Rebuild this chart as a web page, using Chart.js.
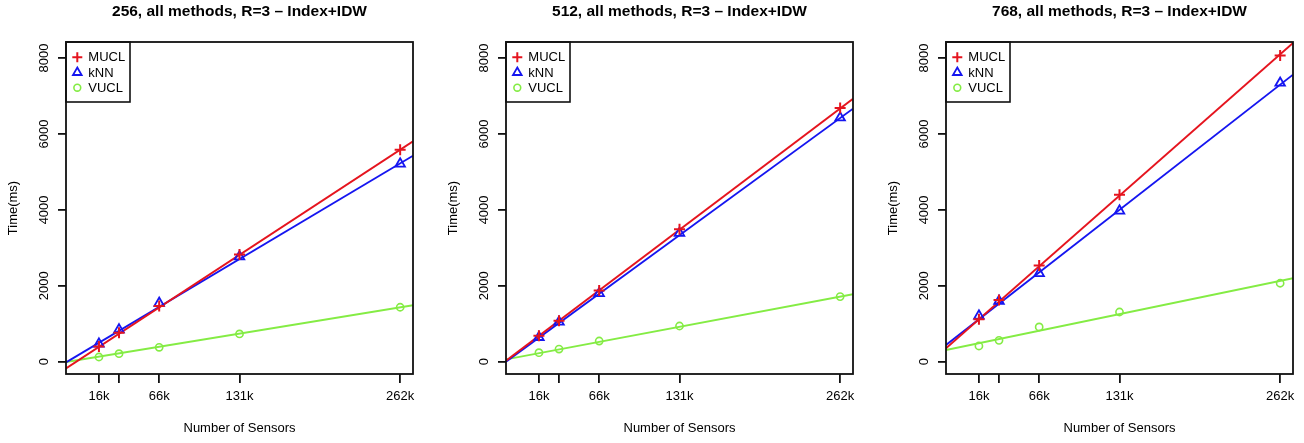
<!DOCTYPE html>
<html>
<head>
<meta charset="utf-8">
<script src="https://cdn.jsdelivr.net/npm/chart.js@4.4.1/dist/chart.umd.min.js"></script>
<style>
  body { margin: 0; background: #fff; width: 1304px; height: 443px; overflow: hidden; position: relative; }
  canvas { position: absolute; top: 0; }
</style>
</head>
<body>
<canvas id="c256" width="440" height="443" style="left:0px"></canvas>
<canvas id="c512" width="440" height="443" style="left:440px"></canvas>
<canvas id="c768" width="440" height="443" style="left:880px"></canvas>
<script>
// ---- data ----
var sensors = [16384, 32768, 65536, 131072, 262144];
var xTicks = [16384, 32768, 65536, 131072, 262144];
var xTickLabels = ['16k', '', '66k', '131k', '262k'];
var yTicks = [0, 2000, 4000, 6000, 8000];
var seriesNames = ['MUCL', 'kNN', 'VUCL'];

// 256
var mucl256 = [400, 765, 1470, 2825, 5585];
var knn256 = [470, 845, 1545, 2770, 5215];
var vucl256 = [124, 211, 380, 731, 1435];
// 512
var mucl512 = [686, 1082, 1873, 3493, 6686];
var knn512 = [644, 1047, 1803, 3387, 6429];
var vucl512 = [237, 334, 545, 941, 1715];
// 768
var mucl768 = [1118, 1627, 2533, 4398, 8066];
var knn768 = [1210, 1600, 2330, 3976, 7345];
var vucl768 = [414, 563, 915, 1310, 2067];

// fitted lines: value at the left and right edge of the plot
var fitX = [-10486, 272630];
var muclFit256 = [-175, 5805];
var knnFit256 = [-20, 5427];
var vuclFit256 = [-10, 1488];
var muclFit512 = [26, 6930];
var knnFit512 = [0, 6667];
var vuclFit512 = [61, 1777];
var muclFit768 = [352, 8400];
var knnFit768 = [440, 7564];
var vuclFit768 = [308, 2200];

var FONT = '"Liberation Sans", Arial, Helvetica, sans-serif';
var RED = '#e5141e', BLUE = '#1515f0', GREEN = '#84ec44';

function pts(vals) {
  var out = [];
  for (var i = 0; i < vals.length; i++) out.push({ x: sensors[i], y: vals[i] });
  return out;
}
function fitPts(vals) {
  return [{ x: fitX[0], y: vals[0] }, { x: fitX[1], y: vals[1] }];
}

// box around plot, rotated y labels, legend in the top-left corner
var framePlugin = {
  id: 'frame',
  afterDraw: function (chart) {
    var ctx = chart.ctx, a = chart.chartArea;
    ctx.save();
    ctx.strokeStyle = '#111';
    ctx.lineWidth = 1.8;
    ctx.strokeRect(a.left, a.top, a.right - a.left, a.bottom - a.top);

    // y tick labels, parallel to axis
    var ys = chart.scales.y;
    ctx.fillStyle = '#000';
    ctx.font = '13px ' + FONT;
    ctx.textAlign = 'center';
    ctx.textBaseline = 'middle';
    for (var i = 0; i < yTicks.length; i++) {
      ctx.save();
      ctx.translate(a.left - 22, ys.getPixelForValue(yTicks[i]));
      ctx.rotate(-Math.PI / 2);
      ctx.fillText(String(yTicks[i]), 0, 0);
      ctx.restore();
    }

    // legend
    ctx.lineWidth = 1.6;
    ctx.strokeRect(a.left, a.top, 64, 60);
    ctx.textAlign = 'left';
    for (var k = 0; k < seriesNames.length; k++) {
      var ds = chart.data.datasets[k];
      var cy = a.top + 15.3 + k * 15.2;
      ctx.fillStyle = ds.backgroundColor;
      ctx.strokeStyle = ds.borderColor;
      ctx.lineWidth = ds.pointBorderWidth;
      Chart.helpers.drawPoint(ctx, {
        pointStyle: ds.pointStyle,
        radius: k === 2 ? 3.4 : 5,
        rotation: 0,
        borderWidth: ds.pointBorderWidth
      }, a.left + 11.3, cy);
      ctx.fillStyle = '#000';
      ctx.fillText(ds.label, a.left + 22.3, cy + 0.5);
    }
    ctx.restore();
  }
};

function makeChart(id, title, mucl, knn, vucl, muclFit, knnFit, vuclFit) {
  var ctx = document.getElementById(id);
  return new Chart(ctx, {
    type: 'scatter',
    data: {
      datasets: [
        { label: seriesNames[0], data: pts(mucl), pointStyle: 'cross', pointRadius: 5.5,
          borderColor: RED, backgroundColor: RED, pointBorderWidth: 2 },
        { label: seriesNames[1], data: pts(knn), pointStyle: 'triangle', pointRadius: 5.5,
          borderColor: BLUE, backgroundColor: 'rgba(0,0,0,0)', pointBorderWidth: 1.8 },
        { label: seriesNames[2], data: pts(vucl), pointStyle: 'circle', pointRadius: 3.6,
          borderColor: GREEN, backgroundColor: 'rgba(0,0,0,0)', pointBorderWidth: 1.6 },
        { label: 'fit MUCL', data: fitPts(muclFit), showLine: true, pointRadius: 0, borderColor: RED, borderWidth: 1.9 },
        { label: 'fit kNN', data: fitPts(knnFit), showLine: true, pointRadius: 0, borderColor: BLUE, borderWidth: 1.9 },
        { label: 'fit VUCL', data: fitPts(vuclFit), showLine: true, pointRadius: 0, borderColor: GREEN, borderWidth: 1.9 }
      ]
    },
    options: {
      responsive: false,
      animation: false,
      events: [],
      layout: { padding: { left: 0, right: 27, top: 0, bottom: 0 } },
      plugins: {
        tooltip: { enabled: false },
        legend: { display: false },
        title: {
          display: true, text: title, fullSize: false, color: '#000',
          font: { family: FONT, size: 15.5, weight: 'bold', lineHeight: 1.2 },
          padding: { top: 2.4, bottom: 21 }
        }
      },
      scales: {
        x: {
          type: 'linear', min: fitX[0], max: fitX[1],
          afterBuildTicks: function (s) { s.ticks = xTicks.map(function (v) { return { value: v }; }); },
          afterFit: function (s) { s.height = 69; },
          ticks: {
            autoSkip: false, maxRotation: 0, padding: 6, color: '#000',
            font: { family: FONT, size: 13 },
            callback: function (v) { var k = xTicks.indexOf(v); return k >= 0 ? xTickLabels[k] : ''; }
          },
          grid: { drawOnChartArea: false, drawTicks: true, tickLength: 9, color: '#111', lineWidth: 1.8 },
          border: { display: false },
          title: { display: true, text: 'Number of Sensors', color: '#000',
                   font: { family: FONT, size: 13 }, padding: { top: 0, bottom: 7 } }
        },
        y: {
          type: 'linear', min: -324, max: 8424,
          afterBuildTicks: function (s) { s.ticks = yTicks.map(function (v) { return { value: v }; }); },
          afterFit: function (s) { s.width = 66; },
          ticks: { display: false },
          grid: { drawOnChartArea: false, drawTicks: true, tickLength: 8, color: '#111', lineWidth: 1.8 },
          border: { display: false },
          title: { display: true, text: 'Time(ms)', color: '#000',
                   font: { family: FONT, size: 13 }, padding: { top: 5.5, bottom: 0 } }
        }
      }
    },
    plugins: [framePlugin]
  });
}

makeChart('c256', '256, all methods, R=3 \u2013 Index+IDW', mucl256, knn256, vucl256, muclFit256, knnFit256, vuclFit256);
makeChart('c512', '512, all methods, R=3 \u2013 Index+IDW', mucl512, knn512, vucl512, muclFit512, knnFit512, vuclFit512);
makeChart('c768', '768, all methods, R=3 \u2013 Index+IDW', mucl768, knn768, vucl768, muclFit768, knnFit768, vuclFit768);
</script>
</body>
</html>
